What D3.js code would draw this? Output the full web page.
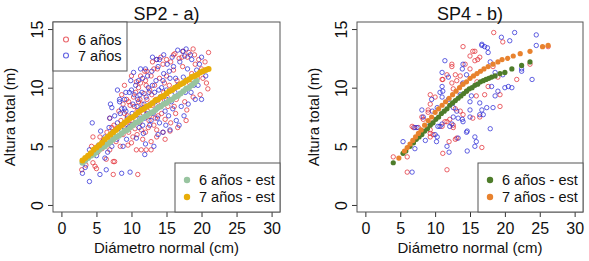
<!DOCTYPE html>
<html><head><meta charset="utf-8">
<script src="https://cdn.jsdelivr.net/npm/d3@7"></script>
<style>
body{margin:0;background:#fff}
svg{display:block;font-family:"Liberation Sans",Arial,Helvetica,sans-serif}
</style>
</head><body>
<div id="chart"></div>
<script>
// ---------- shared axis data ----------
const xTicks = [0, 5, 10, 15, 20, 25, 30];
const yTicks = [0, 5, 10, 15];
const xLabel = "Diámetro normal (cm)";
const yLabel = "Altura total (m)";
const obsLegend = ["6 años", "7 años"];
const estLegend = ["6 años - est", "7 años - est"];

// ---------- SP2 - a) ----------
const sp2Title = "SP2 - a)";
// observed [diameter, height], 6 años
const sp2Obs6 = [
 [2.9,3.0],[4.3,5.0],[4.5,5.8],[4.5,3.6],[4.8,3.3],[5.0,3.1],[5.5,5.8],[5.7,5.1],[6.4,3.9],[6.9,4.7],
 [7.4,3.7],[7.6,3.7],[7.4,2.6],[9.5,5.1],[10.0,5.3],[10.9,2.6],[10.7,4.7],[11.4,4.7],[12.1,4.7],[12.8,4.7],
 [14.5,6.2],[15.5,6.3],[6.9,7.4],[7.2,6.6],[10.7,10.5],[11.9,11.4],[13.6,12.4],[15.0,12.4],[16.2,12.9],[17.4,13.1],
 [18.8,13.3],[19.1,12.0],[21.0,13.0],[20.9,9.9],[20.7,10.4],[19.8,9.4],[17.9,8.1],[11.2,9.0],[12.2,11.4],
 [8.0,6.5],[8.5,7.2],[9.0,7.8],[9.2,6.8],[9.8,8.5],[10.0,7.2],[10.3,9.2],[10.5,6.5],[10.8,8.0],[11.0,10.0],
 [11.2,7.0],[11.5,8.6],[11.8,9.5],[12.0,6.2],[12.0,10.6],[12.3,8.0],[12.5,7.2],[12.6,9.8],[12.8,11.0],[13.0,8.5],
 [13.2,6.8],[13.3,10.2],[13.5,9.0],[13.7,11.6],[13.8,7.6],[14.0,10.8],[14.2,8.8],[14.5,12.0],[14.6,9.6],[14.8,7.3],
 [15.0,11.0],[15.2,8.4],[15.4,10.2],[15.6,12.2],[15.8,9.0],[16.0,11.5],[16.3,7.8],[16.5,10.6],[16.8,12.5],[17.0,9.5],
 [17.3,11.8],[17.6,8.8],[18.0,12.6],[18.3,10.4],[18.6,11.2],[19.0,12.8],[19.4,10.8],[20.0,11.6],[20.5,12.2],
 [6.0,5.5],[6.5,6.2],[7.0,5.8],[7.5,6.8],[7.8,5.4],[8.2,8.0],[8.8,6.0],[9.3,9.0],[5.2,4.5],[5.8,4.8],
 [3.5,3.4],[4.0,4.2],[8.4,5.0],[9.6,6.2],[10.2,5.8],[11.6,5.6],[13.0,12.2],[14.2,12.6],[16.0,12.8],
 [17.2,12.6],[18.2,13.0],[19.6,12.4],[9.0,10.2],[10.0,11.0],[11.3,11.0],[8.6,9.4],[16.6,6.6],
 [17.8,7.2],[18.8,9.2],[20.2,10.8],[13.6,5.8],[14.8,5.6],[12.8,5.4],
 [9.4,7.6],[9.9,6.9],[10.4,8.4],[10.6,7.0],[11.0,8.8],[11.4,6.4],[11.7,7.8],[12.2,9.0],[12.4,6.6],[12.9,9.4],
 [13.4,7.4],[13.9,8.4],[14.3,7.8],[14.7,10.4],[15.1,9.2],[15.6,7.0],[16.1,8.4],[16.4,9.0],[9.6,8.8],[10.6,9.6],
 [11.3,10.4],[12.1,10.2],[13.2,11.6],[8.8,8.6],[10.8,6.0],[12.6,7.6],[13.6,6.4],[14.4,9.2]
];
// observed [diameter, height], 7 años
const sp2Obs7 = [
 [3.0,2.7],[4.0,2.0],[5.5,2.6],[6.4,3.0],[8.6,2.7],[9.8,2.8],[11.9,4.3],[3.8,4.0],[4.0,4.7],[5.3,5.1],
 [5.9,5.4],[6.2,4.0],[6.6,4.5],[7.2,5.0],[8.8,5.0],[9.3,5.6],[10.7,5.7],[11.7,6.1],[14.5,6.2],[15.5,6.4],
 [4.4,7.0],[8.3,8.8],[8.3,9.0],[7.2,8.3],[6.9,7.4],[11.2,9.4],[14.0,12.4],[13.6,12.4],[17.3,13.1],[17.6,12.7],
 [18.6,12.4],[20.0,12.6],[20.0,9.0],[19.1,9.0],[18.1,8.6],
 [8.0,7.0],[8.6,6.4],[9.0,8.2],[9.4,7.4],[9.7,9.6],[10.0,6.8],[10.2,8.6],[10.5,7.6],[10.6,10.2],[10.9,9.0],
 [11.1,6.6],[11.4,8.2],[11.6,10.8],[11.9,7.4],[12.1,9.2],[12.4,10.0],[12.6,6.8],[12.7,8.6],[12.9,11.4],[13.1,7.8],
 [13.3,9.6],[13.5,10.6],[13.6,8.2],[13.8,11.8],[14.0,7.0],[14.1,9.2],[14.3,10.0],[14.6,11.2],[14.8,8.0],[15.0,9.8],
 [15.1,12.0],[15.3,7.6],[15.5,10.8],[15.7,8.8],[16.0,11.8],[16.2,9.6],[16.4,7.2],[16.6,10.2],[16.9,12.2],[17.1,8.4],
 [17.4,10.9],[17.7,9.6],[18.0,11.6],[18.4,12.8],[18.9,10.2],[19.3,11.5],[19.7,12.0],[20.6,11.0],
 [6.2,5.8],[6.8,6.6],[7.3,6.2],[7.6,7.6],[7.9,5.6],[8.4,7.8],[9.0,6.6],[9.2,9.6],[5.0,4.2],[5.6,6.3],
 [3.4,3.2],[4.4,4.4],[9.9,10.6],[10.3,11.3],[11.3,11.6],[12.3,11.0],[13.0,12.6],[12.0,5.2],
 [13.8,6.0],[16.8,6.8],[17.5,7.6],[18.5,9.6],[19.5,10.2],[8.0,9.8],[7.0,8.6],[13.2,5.0],[14.6,12.8],[15.8,12.6],
 [16.6,13.2],[17.8,13.3],
 [9.2,8.0],[9.6,6.6],[10.1,7.8],[10.4,9.4],[10.8,8.4],[11.2,7.4],[11.5,9.6],[11.8,8.6],[12.2,7.8],[12.5,9.6],
 [12.8,7.2],[13.0,10.2],[13.4,8.8],[13.9,9.8],[14.2,8.4],[14.5,10.6],[15.0,9.0],[15.4,11.4],[15.9,8.2],[16.3,10.8],
 [9.0,9.0],[10.0,9.8],[11.0,10.6],[12.0,11.6],[13.7,7.4],[14.9,6.8],[11.6,6.8],[8.6,8.2]
];
// estimated heights (6 años - est)
const sp2Est6D = [3.0,3.4,3.8,4.2,4.6,5.0,5.4,5.8,6.2,6.6,7.0,7.4,7.8,8.2,8.6,9.0,9.4,9.8,10.2,10.6,11.0,11.4,11.8,12.2,12.6,13.0,13.4,13.8,14.2,14.6,15.0,15.4,15.8,16.2,16.6,17.0,17.4,17.8,18.2,18.6,19.0,19.3];
const sp2Est6H = [3.6,3.8,4.0,4.2,4.3,4.5,4.7,4.9,5.0,5.2,5.4,5.6,5.8,5.9,6.1,6.3,6.4,6.6,6.8,7.0,7.1,7.3,7.5,7.6,7.8,7.9,8.1,8.3,8.4,8.6,8.7,8.9,9.0,9.2,9.3,9.5,9.7,9.9,10.0,10.2,10.4,10.6];
// estimated heights (7 años - est)
const sp2Est7D = [3.0,3.4,3.8,4.2,4.6,5.0,5.4,5.8,6.2,6.6,7.0,7.4,7.8,8.2,8.6,9.0,9.4,9.8,10.2,10.6,11.0,11.4,11.8,12.2,12.6,13.0,13.4,13.8,14.2,14.6,15.0,15.4,15.8,16.2,16.6,17.0,17.4,17.8,18.2,18.6,19.0,19.4,19.8,20.2,20.6,21.0];
const sp2Est7H = [3.8,4.0,4.2,4.4,4.7,4.9,5.1,5.3,5.6,5.8,6.0,6.2,6.4,6.6,6.8,7.0,7.2,7.4,7.5,7.7,7.9,8.1,8.2,8.4,8.5,8.7,8.9,9.0,9.2,9.3,9.5,9.7,9.8,10.0,10.1,10.3,10.4,10.6,10.7,10.9,11.0,11.1,11.3,11.4,11.5,11.6];

// ---------- SP4 - b) ----------
const sp4Title = "SP4 - b)";
const sp4Obs6 = [
 [4.0,4.1],[6.0,4.1],[6.0,2.8],[11.7,3.0],[11.1,4.4],[12.0,5.4],[12.9,5.6],[13.1,5.7],[16.7,4.9],[9.3,5.8],
 [9.7,6.0],[12.6,6.8],[9.3,6.1],[6.9,6.6],[9.0,7.9],[9.3,6.4],[13.6,8.0],[12.9,8.2],[12.1,7.3],[11.7,7.1],
 [12.6,6.6],[12.4,12.0],[11.7,11.1],[11.1,10.7],[10.0,9.2],[9.3,8.6],[9.0,8.1],[8.3,7.3],[7.6,6.6],[15.4,13.1],
 [15.0,12.7],[16.1,12.4],[15.7,12.3],[15.0,11.6],[14.3,12.0],[13.6,11.0],[13.1,10.6],[12.6,9.9],[14.5,9.7],[15.9,9.3],
 [17.1,9.4],[17.6,10.1],[19.0,10.9],[18.3,11.8],[21.7,10.7],[18.4,14.7],[19.7,13.9],[15.7,13.1],[16.4,12.6],[12.4,11.8],
 [11.0,10.7],[16.4,7.5],[14.0,7.7],[15.4,7.4],[11.4,7.1],[11.0,6.7],[9.6,7.0],[6.7,6.7],[8.1,7.5],[9.3,9.4],
 [12.4,10.4],[12.9,11.1],[13.9,10.3],[16.0,10.5],[19.3,9.4],[19.3,8.4],[23.6,12.0],[26.2,13.5],[14.0,13.5]
];
const sp4Obs7 = [
 [5.4,5.4],[7.1,4.8],[6.7,2.8],[8.6,5.5],[10.3,5.8],[10.2,5.4],[11.7,5.0],[12.0,4.5],[13.3,5.7],[14.6,4.6],
 [14.6,6.3],[15.7,5.8],[15.9,5.4],[15.7,5.0],[17.9,6.5],[10.7,6.7],[7.4,6.6],[8.3,7.5],[10.0,6.0],[10.4,6.7],
 [11.0,6.9],[12.4,6.9],[14.0,7.1],[14.5,6.2],[17.4,8.3],[16.4,7.7],[18.6,9.3],[15.0,7.5],[11.4,12.3],[11.0,11.3],
 [11.0,10.1],[9.5,9.0],[10.3,8.3],[7.1,6.6],[17.1,13.5],[16.7,13.7],[17.6,13.0],[17.9,12.2],[14.5,11.1],[14.0,10.4],
 [13.6,9.4],[15.2,9.3],[16.4,8.7],[18.6,11.3],[19.7,11.1],[21.0,10.0],[22.4,11.4],[11.1,9.7],[11.9,9.0],[12.6,8.3],
 [13.1,8.0],[15.0,8.8],[15.0,8.1],[16.7,8.1],[16.9,7.7],[12.6,7.5],[13.3,7.4],[13.9,7.3],[12.1,6.7],[8.9,6.7],
 [8.1,8.1],[11.0,9.2],[11.9,10.9],[13.9,11.6],[14.0,12.0],[18.1,10.1],[20.5,10.1],[18.3,8.3],[19.5,14.3],[21.4,14.7],
 [24.5,14.5],[20.7,14.0],[24.5,13.6],[16.7,13.6],[17.5,13.4],[23.9,10.7],[22.4,11.6],[20.0,10.0],[19.0,9.7],[10.7,9.6],
 [9.6,8.0]
];
const sp4Est6D = [4.0,5.4,5.8,6.4,6.9,7.3,7.7,8.1,8.5,8.9,9.3,9.7,10.1,10.5,10.9,11.3,11.7,12.1,12.5,12.9,13.3,13.7,14.1,14.5,14.9,15.3,15.7,16.1,16.5,16.9,17.3,17.7,18.1,18.6,19.3,20.0,21.0,22.4,23.6];
const sp4Est6H = [3.6,4.4,4.6,5.0,5.3,5.6,5.8,6.0,6.3,6.5,6.8,7.0,7.3,7.5,7.8,8.0,8.2,8.5,8.7,8.9,9.1,9.3,9.5,9.7,9.9,10.0,10.2,10.3,10.5,10.6,10.7,10.8,10.9,11.0,11.2,11.3,11.6,11.9,12.2];
const sp4Est7D = [4.8,5.6,6.0,6.4,6.8,7.2,7.6,8.0,8.5,9.0,9.5,10.0,10.5,11.0,11.5,12.0,12.5,13.0,13.5,14.0,14.5,15.0,15.5,16.0,16.5,17.0,17.6,18.3,19.0,19.6,20.4,21.2,22.2,23.6,25.4,26.2];
const sp4Est7H = [4.0,4.6,4.9,5.2,5.5,5.8,6.1,6.4,6.8,7.2,7.5,7.9,8.2,8.5,8.8,9.1,9.4,9.7,10.0,10.3,10.5,10.8,11.0,11.2,11.4,11.6,11.8,12.0,12.2,12.4,12.5,12.7,12.9,13.1,13.5,13.6];

// ---------- styles ----------
const colObs6 = "rgba(226,40,48,0.72)";
const colObs7 = "rgba(38,38,214,0.72)";

const W = 589, H = 261;
const svg = d3.select("#chart").append("svg").attr("width", W).attr("height", H);

function zip(a, b) { return a.map((v, i) => [v, b[i]]); }

function panel(cfg) {
  const x = d3.scaleLinear().domain([-1.2, 31.2]).range([cfg.x0, cfg.x1]);
  const y = d3.scaleLinear().domain([-0.6, 15.6]).range([cfg.y1, cfg.y0]);
  const g = svg.append("g");

  // observed points
  [[cfg.obs6, colObs6], [cfg.obs7, colObs7]].forEach(([data, c]) => {
    g.append("g").selectAll("circle").data(data).join("circle")
      .attr("cx", d => x(d[0])).attr("cy", d => y(d[1])).attr("r", 2.2)
      .attr("fill", "none").attr("stroke", c).attr("stroke-width", 1);
  });
  // estimated points
  [[cfg.est6, cfg.c6], [cfg.est7, cfg.c7]].forEach(([data, c]) => {
    g.append("g").selectAll("circle").data(data).join("circle")
      .attr("cx", d => x(d[0])).attr("cy", d => y(d[1])).attr("r", cfg.er)
      .attr("fill", c);
  });

  // axes
  const xa = g.append("g").attr("transform", `translate(0,${cfg.y1})`)
    .call(d3.axisBottom(x).tickValues(xTicks).tickSize(5).tickPadding(6));
  xa.select(".domain").remove();
  xa.selectAll("line").attr("stroke", "#333");
  xa.selectAll("text").attr("font-size", 16).attr("fill", "#111").attr("font-family", null);

  const ya = g.append("g").attr("transform", `translate(${cfg.x0},0)`)
    .call(d3.axisLeft(y).tickValues(yTicks).tickSize(5));
  ya.select(".domain").remove();
  ya.selectAll("line").attr("stroke", "#333");
  ya.selectAll("text").attr("font-size", 16).attr("fill", "#111").attr("font-family", null)
    .attr("x", null).attr("dy", null).attr("text-anchor", "middle")
    .attr("transform", "translate(-10,0) rotate(-90)");

  // box
  g.append("rect").attr("x", cfg.x0).attr("y", cfg.y0)
    .attr("width", cfg.x1 - cfg.x0).attr("height", cfg.y1 - cfg.y0)
    .attr("fill", "none").attr("stroke", "#555").attr("stroke-width", 1);

  // titles
  g.append("text").attr("x", (cfg.x0 + cfg.x1) / 2).attr("y", 20).attr("text-anchor", "middle")
    .attr("font-size", 18).attr("fill", "#111").text(cfg.title);
  g.append("text").attr("x", (cfg.x0 + cfg.x1) / 2).attr("y", 253).attr("text-anchor", "middle")
    .attr("font-size", 15).attr("fill", "#111").text(xLabel);
  g.append("text").attr("transform", `translate(${cfg.x0 - 38},${(cfg.y0 + cfg.y1) / 2}) rotate(-90)`)
    .attr("text-anchor", "middle").attr("font-size", 15).attr("fill", "#111").text(yLabel);

  // observed legend
  if (cfg.obsLegend) {
    const lg = g.append("g");
    lg.append("rect").attr("x", cfg.x0).attr("y", cfg.y0).attr("width", 74).attr("height", 49)
      .attr("fill", "#fff").attr("stroke", "#555");
    obsLegend.forEach((t, i) => {
      const cy = cfg.y0 + 17.5 + i * 16;
      lg.append("circle").attr("cx", cfg.x0 + 13).attr("cy", cy).attr("r", 2.5)
        .attr("fill", "none").attr("stroke", i ? colObs7 : colObs6).attr("stroke-width", 1.1);
      lg.append("text").attr("x", cfg.x0 + 25).attr("y", cy + 5).attr("font-size", 14.5)
        .attr("fill", "#111").text(t);
    });
  }
  // estimated legend
  const eg = g.append("g");
  const lx = cfg.x1 - 105;
  eg.append("rect").attr("x", lx).attr("y", cfg.y1 - 49).attr("width", 105).attr("height", 49)
    .attr("fill", "#fff").attr("stroke", "#555");
  estLegend.forEach((t, i) => {
    const cy = cfg.y1 - 32 + i * 17;
    eg.append("circle").attr("cx", lx + 12).attr("cy", cy).attr("r", 3.2)
      .attr("fill", i ? cfg.c7 : cfg.c6);
    eg.append("text").attr("x", lx + 24).attr("y", cy + 5).attr("font-size", 14.5)
      .attr("fill", "#111").text(t);
  });
}

panel({ x0: 53, x1: 280, y0: 22, y1: 212, title: sp2Title,
  obs6: sp2Obs6, obs7: sp2Obs7,
  est6: zip(sp2Est6D, sp2Est6H), est7: zip(sp2Est7D, sp2Est7H),
  c6: "#98c4a0", c7: "#e8ad08", er: 3, obsLegend: true });
panel({ x0: 357, x1: 583, y0: 22, y1: 212, title: sp4Title,
  obs6: sp4Obs6, obs7: sp4Obs7,
  est6: zip(sp4Est6D, sp4Est6H), est7: zip(sp4Est7D, sp4Est7H),
  c6: "#4e7c2a", c7: "#e8822e", er: 2.6, obsLegend: false });
</script>
</body></html>
